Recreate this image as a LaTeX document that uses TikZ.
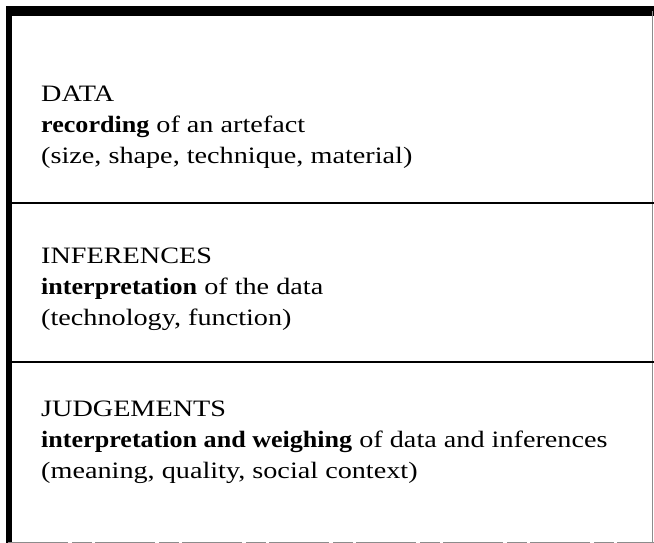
\documentclass[tikz,border=0pt]{standalone}
\usepackage{fontspec}
\setmainfont{Liberation Serif}[FakeStretch=1.2, BoldFeatures={FakeStretch=1.11}]
\usetikzlibrary{positioning}

\begin{document}
\begin{tikzpicture}[x=1pt, y=-1pt,
    frame/.style = {line width=6pt},
    rule/.style = {line width=1.4pt},
    faint/.style = {line width=1pt, black!45},
    block/.style = {anchor=base west, align=left, inner sep=0pt,
        font=\fontsize{23.5}{31}\selectfont}]
    \useasboundingbox (0,0) rectangle (654,543);

    % frame of the table
    \draw[frame] (8.5,543) -- (8.5,11);
    \draw[line width=10pt] (6,11) -- (654,11);
    \draw[faint] (652,11) -- (652,543);
    \draw[faint, dash pattern=on 60pt off 4pt on 20pt off 3pt] (8,542) -- (654,542);

    % rules between the rows
    \draw[rule] (8,203) -- (654,203);
    \draw[rule] (8,362) -- (654,362);

    \node[block] (data) at (41,163)
        {DATA\\\textbf{recording} of an artefact\\(size, shape, technique, material)};
    \node[block] (inferences) at (41,325)
        {INFERENCES\\\textbf{interpretation} of the data\\(technology, function)};
    \node[block] (judgements) at (41,478)
        {JUDGEMENTS\\\textbf{interpretation and weighing} of data and inferences\\(meaning, quality, social context)};
\end{tikzpicture}
\end{document}
